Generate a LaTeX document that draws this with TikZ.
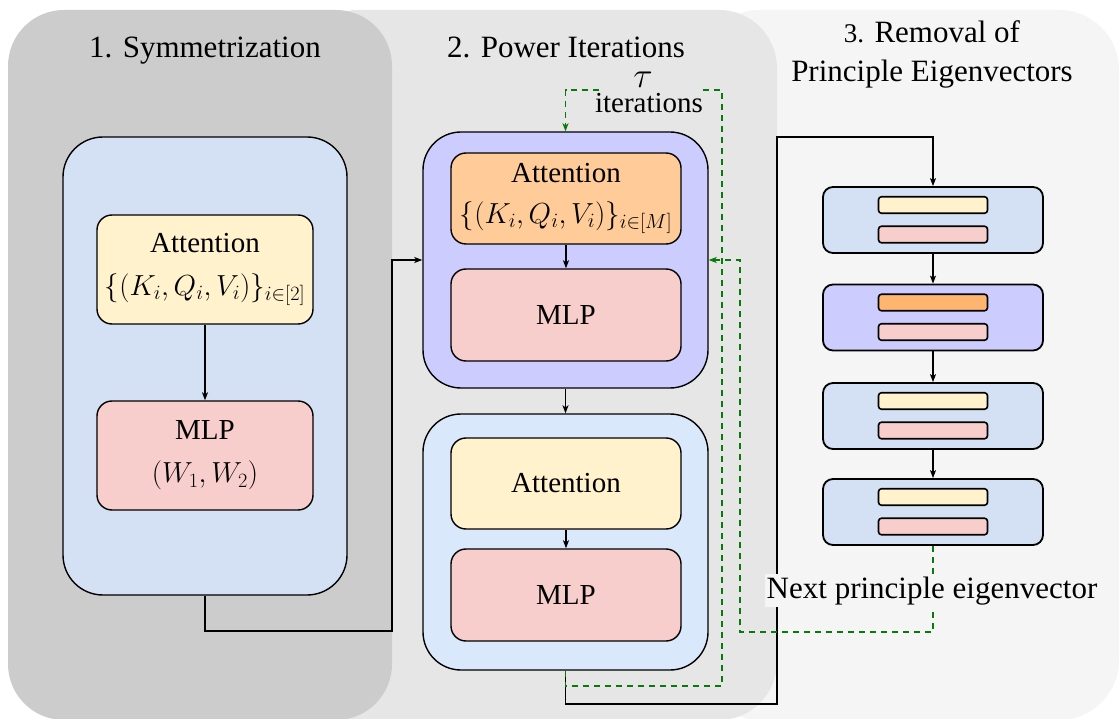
\RequirePackage{fix-cm}
\documentclass[tikz,border=0pt]{standalone}
\usepackage{fontspec}
\setmainfont{Liberation Serif}
\usetikzlibrary{arrows.meta}
\definecolor{pone}{HTML}{CCCCCC}
\definecolor{ptwo}{HTML}{E6E6E6}
\definecolor{pthree}{HTML}{F5F5F5}
\definecolor{blueA}{HTML}{D4E1F5}
\definecolor{blueB}{HTML}{DAE8FC}
\definecolor{lav}{HTML}{CCCCFF}
\definecolor{yel}{HTML}{FFF2CC}
\definecolor{redc}{HTML}{F8CECC}
\definecolor{orA}{HTML}{FFCC99}
\definecolor{orB}{HTML}{FFB570}
\definecolor{grn}{HTML}{0A780A}
\tikzset{
  boxtext/.style={font=\fontsize{29}{35}\selectfont, align=center},
  titletext/.style={font=\fontsize{31}{38}\selectfont, inner sep=0pt},
  bigbox/.style={draw=black, line width=1.4pt, rounded corners=40pt, inner sep=0pt},
  midbox/.style={draw=black, line width=1.4pt, rounded corners=15pt, inner sep=0pt, boxtext},
  smallbox/.style={draw=black, line width=1.8pt, rounded corners=10pt, inner sep=0pt, minimum width=220pt, minimum height=66pt},
  bar/.style={draw=black, line width=1.6pt, rounded corners=3pt, inner sep=0pt, minimum width=109pt, minimum height=16.5pt},
  arr/.style={draw=black, line width=1.3pt, -{Stealth[length=8pt,width=6pt,inset=2pt]}},
  gr/.style={draw=grn, line width=1.3pt, dash pattern=on 6pt off 5pt, -{Stealth[length=8pt,width=6pt,inset=2pt]}}
}
\begin{document}
\begin{tikzpicture}[x=1pt,y=-1pt]
\useasboundingbox (0,0) rectangle (1120,719);
\fill[white] (0,0) rectangle (1120,719);
% panels
\fill[pthree, rounded corners=60pt] (700,10) rectangle (1119,720);
\fill[ptwo, rounded corners=58pt] (300,10) rectangle (777,720);
\fill[pone, rounded corners=56pt] (8,10) rectangle (392,720);
% titles
\node[titletext, anchor=base] (t1) at (205,58) {1. Symmetrization};
\node[titletext, anchor=base] (t2) at (566,58) {2. Power Iterations};
\node[titletext, anchor=base] (t3a) at (932,43) {{\fontsize{27}{30}\selectfont 3.} Removal of};
\node[titletext, anchor=base] (t3b) at (932,82) {Principle Eigenvectors};
% stage 1
\node[bigbox, fill=blueA, minimum width=284pt, minimum height=458pt] (s1box) at (205,366) {};
\node[midbox, fill=yel, minimum width=216pt, minimum height=109pt] (att1) at (205,269.5) {Attention\\[8pt]$\{(K_i,Q_i,V_i)\}_{i\in[2]}$};
\node[midbox, fill=redc, minimum width=216pt, minimum height=109pt] (mlp1) at (205,455.5) {MLP\\[8pt]$(W_1,W_2)$};
\draw[arr] (att1.south) -- (mlp1.north);
% stage 2
\node[bigbox, rounded corners=38pt, fill=lav, minimum width=285pt, minimum height=256pt] (s2top) at (565.5,260) {};
\node[midbox, fill=orA, minimum width=230pt, minimum height=91pt] (oatt) at (566,198.5) {Attention\\[6pt]$\{(K_i,Q_i,V_i)\}_{i\in[M]}$};
\node[midbox, fill=redc, minimum width=230pt, minimum height=92pt] (omlp) at (566,315) {MLP};
\node[bigbox, rounded corners=38pt, fill=blueB, minimum width=285pt, minimum height=256pt] (s2bot) at (565.5,542) {};
\node[midbox, fill=yel, minimum width=230pt, minimum height=91pt] (yatt) at (566,483.5) {Attention};
\node[midbox, fill=redc, minimum width=230pt, minimum height=92pt] (ymlp) at (566,595) {MLP};
\draw[arr] (oatt.south) -- (omlp.north);
\draw[arr] (s2top.south) -- (s2bot.north);
\draw[arr] (yatt.south) -- (ymlp.north);
% stage 3
\node[smallbox, fill=blueA] (r1) at (933,220) {};
\node[smallbox, fill=lav] (r2) at (933,317.5) {};
\node[smallbox, fill=blueA] (r3) at (933,416) {};
\node[smallbox, fill=blueA] (r4) at (933,512) {};
\node[bar, fill=yel] (r1a) at ([yshift=15pt]r1.center) {};
\node[bar, fill=redc] (r1m) at ([yshift=-14.5pt]r1.center) {};
\node[bar, fill=orB] (r2a) at ([yshift=15pt]r2.center) {};
\node[bar, fill=redc] (r2m) at ([yshift=-14.5pt]r2.center) {};
\node[bar, fill=yel] (r3a) at ([yshift=15pt]r3.center) {};
\node[bar, fill=redc] (r3m) at ([yshift=-14.5pt]r3.center) {};
\node[bar, fill=yel] (r4a) at ([yshift=15pt]r4.center) {};
\node[bar, fill=redc] (r4m) at ([yshift=-14.5pt]r4.center) {};
\draw[arr] (r1.south) -- (r2.north);
\draw[arr] (r2.south) -- (r3.north);
\draw[arr] (r3.south) -- (r4.north);
% connectors between stages
\coordinate (c1) at (392,631);
\draw[arr] (s1box.south) |- (c1) |- (s2top.west);
\coordinate (k1) at (777,704);
\coordinate (k2) at (777,137);
\draw[arr] (s2bot.south) |- (k1) -- (k2) -| (r1.north);
% green loops
\coordinate (g1) at (722,686);
\coordinate (g2) at (722,90);
\draw[gr] (s2bot.south) |- (g1) -- (g2) -| (s2top.north);
\node[fill=ptwo, font=\fontsize{29}{35}\selectfont, inner ysep=5pt, inner xsep=-5pt, anchor=base] (iter) at (649,113) {iterations};
\node[font=\fontsize{36}{40}\selectfont, inner sep=0pt, anchor=base] (tau) at (643,88) {$\tau$};
\coordinate (g3) at (740,632);
\draw[gr] (r4.south) |- (g3) |- (s2top.east);
\node[fill=pthree, font=\fontsize{31}{36}\selectfont, inner sep=2pt, anchor=base] (nextl) at (932,598) {Next principle eigenvector};
\end{tikzpicture}
\end{document}
